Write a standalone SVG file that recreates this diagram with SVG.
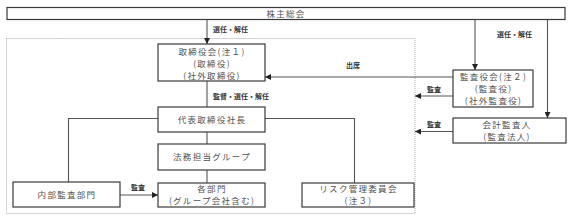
<svg xmlns="http://www.w3.org/2000/svg" width="572" height="221" viewBox="0 0 572 221">
<style>
.box{fill:#fff;stroke:#3a3a3a;stroke-width:1.2}
.ln{fill:none;stroke:#555;stroke-width:1.1}
.t{font-family:"Noto Sans CJK JP","Noto Sans",sans-serif;font-size:8.5px;fill:#505050;text-anchor:middle;letter-spacing:1.3px}
.l{font-family:"Noto Sans CJK JP","Noto Sans",sans-serif;font-size:7px;fill:#333;text-anchor:start;font-weight:bold}
</style>
<defs>
<marker id="ah" viewBox="0 0 6 6" refX="6" refY="3" markerWidth="6" markerHeight="6" markerUnits="userSpaceOnUse" orient="auto">
<path d="M0,0 L6,3 L0,6 Z" fill="#222"/>
</marker>
</defs>
<rect x="6.5" y="38.5" width="408.5" height="175" fill="none" stroke="#aaa" stroke-width="1" stroke-dasharray="1 1"/>
<g id="connectors">
<line class="ln" x1="207" y1="20" x2="207" y2="44" marker-end="url(#ah)"/>
<line class="ln" x1="475" y1="20" x2="475" y2="70" marker-end="url(#ah)"/>
<line class="ln" x1="547.5" y1="20" x2="547.5" y2="118" marker-end="url(#ah)"/>
<line class="ln" x1="453" y1="77" x2="265" y2="77" marker-end="url(#ah)"/>
<line class="ln" x1="453" y1="96" x2="415" y2="96" marker-end="url(#ah)"/>
<line class="ln" x1="453" y1="131.5" x2="415" y2="131.5" marker-end="url(#ah)"/>
<line class="ln" x1="207" y1="81" x2="207" y2="107"/>
<polyline class="ln" points="158,118.5 68.5,118.5 68.5,182"/>
<polyline class="ln" points="265,118.5 354.5,118.5 354.5,183"/>
<line class="ln" x1="207" y1="132" x2="207" y2="144"/>
<line class="ln" x1="207" y1="170" x2="207" y2="183"/>
<line class="ln" x1="120" y1="195" x2="158" y2="195" marker-end="url(#ah)"/>
<text class="l" x="213" y="32">選任・解任</text>
<text class="l" x="497" y="37">選任・解任</text>
<text class="l" x="346" y="68">出席</text>
<text class="l" x="213" y="99">監督・選任・解任</text>
<text class="l" x="427" y="92">監査</text>
<text class="l" x="427" y="127">監査</text>
<text class="l" x="131" y="190">監査</text>
</g>
<g id="kabunushi">
<rect class="box" x="7" y="7.5" width="558" height="12"/>
<text class="t" x="286" y="16.5">株主総会</text>
</g>
<g id="torishimariyakukai">
<rect class="box" x="158" y="44" width="107" height="37"/>
<text class="t" x="212" y="54.5">取締役会(注１)</text>
<text class="t" x="212" y="66.5">(取締役)</text>
<text class="t" x="212" y="78.5">(社外取締役)</text>
</g>
<g id="kansayakukai">
<rect class="box" x="453" y="70" width="80" height="37"/>
<text class="t" x="493.5" y="79.5">監査役会(注２)</text>
<text class="t" x="493.5" y="91.5">(監査役)</text>
<text class="t" x="493.5" y="103.5">(社外監査役)</text>
</g>
<g id="kaikeikansanin">
<rect class="box" x="453" y="118" width="113" height="25"/>
<text class="t" x="507" y="127.5">会計監査人</text>
<text class="t" x="507" y="139.5">(監査法人)</text>
</g>
<g id="daihyo">
<rect class="box" x="158" y="107" width="107" height="25"/>
<text class="t" x="212" y="122.5">代表取締役社長</text>
</g>
<g id="houmu">
<rect class="box" x="158" y="144" width="107" height="26"/>
<text class="t" x="212" y="160">法務担当グループ</text>
</g>
<g id="kakubumon">
<rect class="box" x="158" y="183" width="107" height="24"/>
<text class="t" x="212" y="192">各部門</text>
<text class="t" x="212" y="204">(グループ会社含む)</text>
</g>
<g id="naibukansa">
<rect class="box" x="13" y="182" width="107" height="25"/>
<text class="t" x="67" y="197.5">内部監査部門</text>
</g>
<g id="risk">
<rect class="box" x="302" y="183" width="112" height="24"/>
<text class="t" x="358.5" y="192">リスク管理委員会</text>
<text class="t" x="358.5" y="204">(注３)</text>
</g>
</svg>
